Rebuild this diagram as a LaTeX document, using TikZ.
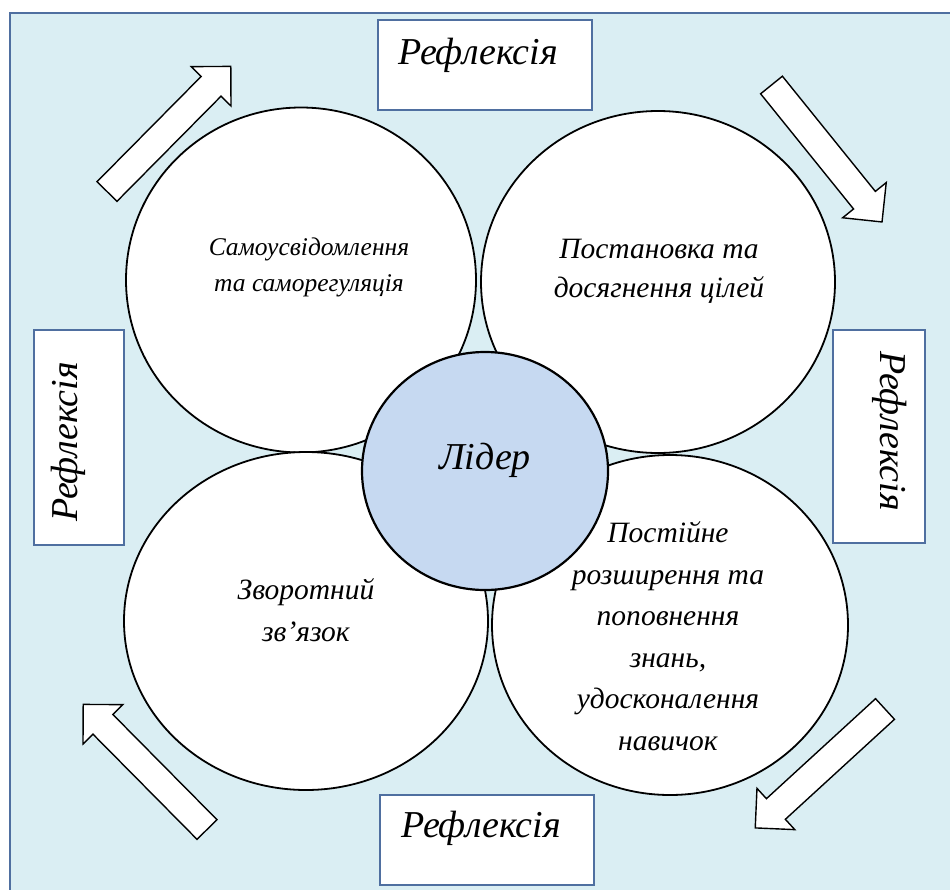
\documentclass[tikz,border=0pt]{standalone}
\usepackage{fontspec}
\setmainfont{Liberation Serif}
\usetikzlibrary{shapes.geometric}
\definecolor{paleblue}{HTML}{DAEEF3}
\definecolor{leaderblue}{HTML}{C6D9F1}
\definecolor{frameblue}{HTML}{4F6FA0}

\begin{document}
\begin{tikzpicture}[
    x=1pt, y=-1pt,
    % Circles around the leader
    petal/.style={ellipse, draw=black, line width=1.8pt, fill=white, inner sep=0pt},
    leader/.style={ellipse, draw=black, line width=2.2pt, fill=leaderblue, inner sep=0pt},
    % Reflection boxes on the four sides
    reflbox/.style={rectangle, draw=frameblue, line width=1.6pt, fill=white, inner sep=0pt},
    refltext/.style={inner sep=0pt, font=\fontsize{38}{42}\selectfont\itshape},
    % Texts inside the circles
    petaltext/.style={align=center, inner sep=0pt, font=\fontsize{29.5}{41.5}\selectfont\itshape},
    % Hollow block arrows
    arrowline/.style={draw=black, line width=1.4pt, fill=white, line join=miter},
    blockarrow/.pic={
        \path[arrowline] (0,-14) -- (148,-14) -- (148,-28) -- (176,0)
            -- (148,28) -- (148,14) -- (0,14) -- cycle;
    }
]
    \useasboundingbox (0,0) rectangle (950,889);
    \clip (0,0) rectangle (950,889);

    % --- Background panel ---
    \draw[frameblue, line width=2.2pt, fill=paleblue] (10,13) rectangle (965,905);

    % --- Arrows ---
    \pic[rotate=45.3]   at (107,191.5) {blockarrow};
    \pic[rotate=-51.1]  at (771.5,85)  {blockarrow};
    \pic[rotate=134.7]  at (207,829.5) {blockarrow};
    \pic[rotate=-137.5] at (885,709)   {blockarrow};

    % --- Boxes ---
    \node[reflbox, minimum width=214, minimum height=90] (reflTop)    at (485,65)    {};
    \node[reflbox, minimum width=214, minimum height=90] (reflBottom) at (487,840)   {};
    \node[reflbox, minimum width=90, minimum height=215] (reflLeft)   at (79,437.5)  {};
    \node[reflbox, minimum width=92, minimum height=213] (reflRight)  at (879,436.5) {};

    \node[refltext] (txtTop)    at (478,55)  {Рефлексія};
    \node[refltext] (txtBottom) at (481,828) {Рефлексія};
    \node[refltext, rotate=90]  (txtLeft)  at (68,442)  {Рефлексія};
    \node[refltext, rotate=-90] (txtRight) at (890,431) {Рефлексія};

    % --- Circles ---
    \node[petal, minimum width=350, minimum height=345] (selfC)  at (301,280) {};
    \node[petal, minimum width=354, minimum height=342] (goalC)  at (658,282) {};
    \node[petal, minimum width=364, minimum height=338] (backC)  at (306,621) {};
    \node[petal, minimum width=356, minimum height=340] (learnC) at (670,625) {};
    \node[leader, minimum width=246, minimum height=238] (leadC) at (485,471) {};

    % --- Texts ---
    \node[petaltext, font=\fontsize{25.5}{36}\selectfont\itshape] (selfT) at (309,267)
        {Самоусвідомлення\\та саморегуляція};
    \node[petaltext, font=\fontsize{29.5}{39}\selectfont\itshape] (goalT) at (659,271)
        {Постановка та\\досягнення цілей};
    \node[petaltext, font=\fontsize{29.5}{42}\selectfont\itshape] (backT) at (306,610)
        {Зворотний\\зв’язок};
    \node[petaltext] (learnT) at (668,636)
        {Постійне\\розширення та\\поповнення\\знань,\\удосконалення\\навичок};
    \node[inner sep=0pt, font=\fontsize{38}{42}\selectfont\itshape] (leadT) at (485,460) {Лідер};
\end{tikzpicture}
\end{document}
